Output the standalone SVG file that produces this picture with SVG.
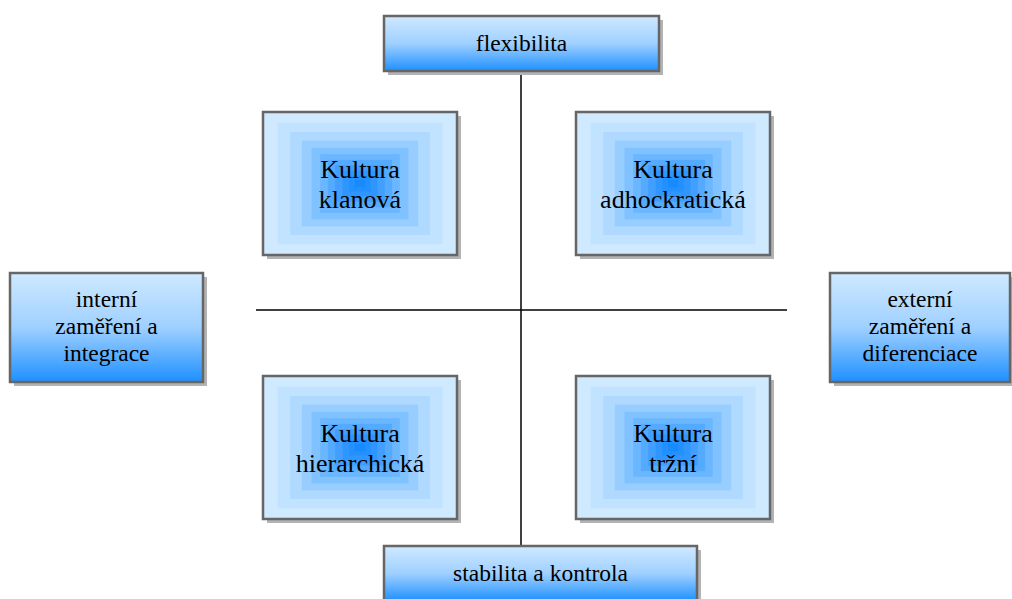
<svg xmlns="http://www.w3.org/2000/svg" width="1012" height="599" viewBox="0 0 1012 599">
<style>
.sh{fill:#b3b3b3}
.bd{fill:none;stroke:#666;stroke-width:2.5}
.t{font-family:"Liberation Serif","Times New Roman",serif;fill:#000;text-anchor:middle}
.q{font-size:26px}
.s{font-size:23.5px}
.ln{stroke:#000;stroke-width:1.5;fill:none}
</style>
<defs>
<linearGradient id="vg" x1="0" y1="0" x2="0" y2="1">
<stop offset="0" stop-color="#cfe9ff"/>
<stop offset="0.5" stop-color="#9fd0ff"/>
<stop offset="1" stop-color="#1e90ff"/>
</linearGradient>
<g id="quad">
<rect x="0" y="0" width="194" height="143" fill="#cfe9ff"/>
<rect x="14.6" y="10.7" width="164.9" height="121.6" fill="#c2e3ff"/>
<rect x="27.2" y="20" width="139.7" height="103" fill="#b0d9ff"/>
<rect x="38.8" y="28.6" width="116.4" height="85.8" fill="#98cdff"/>
<rect x="48.5" y="35.8" width="97" height="71.5" fill="#80c1ff"/>
<rect x="57.2" y="42.2" width="79.5" height="58.6" fill="#6ab6ff"/>
<rect x="64.9" y="47.9" width="64.2" height="47.2" fill="#54aaff"/>
<rect x="72.2" y="53.2" width="49.5" height="36.5" fill="#429fff"/>
<rect x="79.5" y="58.6" width="35" height="25.8" fill="#3096ff"/>
<rect x="86.3" y="63.6" width="21.4" height="15.8" fill="#2290ff"/>
<rect x="92" y="67.8" width="10" height="7.4" fill="#178aff"/>
</g>
</defs>
<g id="connectors">
<line class="ln" x1="521" y1="71" x2="521" y2="546"/>
<line class="ln" x1="256" y1="310" x2="787" y2="310"/>
</g>
<g id="flexibilita">
<rect class="sh" x="388" y="20" width="275" height="55"/>
<rect x="384" y="16" width="275" height="55" fill="url(#vg)"/>
<rect class="bd" x="384" y="16" width="275" height="55"/>
<text class="t s" x="521.5" y="51">flexibilita</text>
</g>
<g id="stabilita">
<rect class="sh" x="388" y="550" width="313" height="55"/>
<rect x="384" y="546" width="313" height="55" fill="url(#vg)"/>
<rect class="bd" x="384" y="546" width="313" height="55"/>
<text class="t s" x="540.5" y="581">stabilita a kontrola</text>
</g>
<g id="interni">
<rect class="sh" x="14" y="277" width="193" height="109"/>
<rect x="10" y="273" width="193" height="109" fill="url(#vg)"/>
<rect class="bd" x="10" y="273" width="193" height="109"/>
<text class="t s" x="106.5" y="307">interní</text>
<text class="t s" x="106.5" y="334">zaměření a</text>
<text class="t s" x="106.5" y="361">integrace</text>
</g>
<g id="externi">
<rect class="sh" x="834" y="277" width="180" height="109"/>
<rect x="830" y="273" width="180" height="109" fill="url(#vg)"/>
<rect class="bd" x="830" y="273" width="180" height="109"/>
<text class="t s" x="920" y="307">externí</text>
<text class="t s" x="920" y="334">zaměření a</text>
<text class="t s" x="920" y="361">diferenciace</text>
</g>
<g id="klanova">
<rect class="sh" x="267" y="116" width="194" height="143"/>
<use href="#quad" x="263" y="112"/>
<rect class="bd" x="263" y="112" width="194" height="143"/>
<text class="t q" x="360" y="178">Kultura</text>
<text class="t q" x="360" y="208">klanová</text>
</g>
<g id="adhockraticka">
<rect class="sh" x="580" y="116" width="194" height="143"/>
<use href="#quad" x="576" y="112"/>
<rect class="bd" x="576" y="112" width="194" height="143"/>
<text class="t q" x="673" y="178">Kultura</text>
<text class="t q" x="673" y="208">adhockratická</text>
</g>
<g id="hierarchicka">
<rect class="sh" x="267" y="380" width="194" height="143"/>
<use href="#quad" x="263" y="376"/>
<rect class="bd" x="263" y="376" width="194" height="143"/>
<text class="t q" x="360" y="442">Kultura</text>
<text class="t q" x="360" y="472">hierarchická</text>
</g>
<g id="trzni">
<rect class="sh" x="580" y="380" width="194" height="143"/>
<use href="#quad" x="576" y="376"/>
<rect class="bd" x="576" y="376" width="194" height="143"/>
<text class="t q" x="673" y="442">Kultura</text>
<text class="t q" x="673" y="472">tržní</text>
</g>
</svg>
